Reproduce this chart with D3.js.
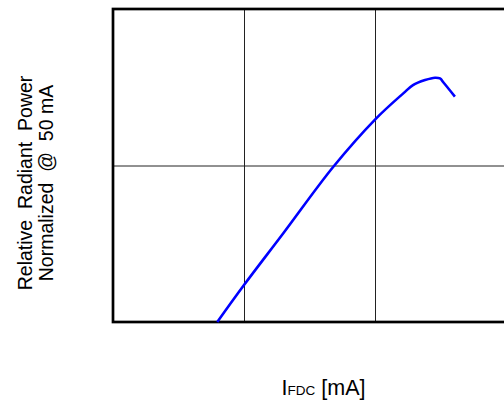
<!DOCTYPE html>
<html>
<head>
<meta charset="utf-8">
<script src="https://cdn.jsdelivr.net/npm/d3@7"></script>
<style>
  html, body { margin: 0; padding: 0; background: #fff; }
  svg { display: block; font-family: "Liberation Sans", Arial, sans-serif; }
</style>
</head>
<body>
<svg id="chart"></svg>
<script>
// forward current (mA) and relative radiant power
const currentMA = [39.8, 50, 65, 84.1, 100.1, 110.8, 114.5, 119.1, 122.9, 124.8, 126.3, 130.5];
const relPower  = [0, 0.236, 0.567, 0.992, 1.295, 1.461, 1.514, 1.546, 1.561, 1.556, 1.527, 1.44];
const xGrid = [50, 100];
const yGrid = [1];

const W = 504, H = 401;
const margin = { top: 9, right: -2, bottom: 79, left: 113 };
const width = W - margin.left - margin.right;
const height = H - margin.top - margin.bottom;

const svg = d3.select('#chart').attr('width', W).attr('height', H);
const g = svg.append('g').attr('transform', `translate(${margin.left}, ${margin.top})`);

const x = d3.scaleLinear().domain([0, 150]).range([0, width]);
const y = d3.scaleLinear().domain([0, 2]).range([height, 0]);

// grid lines
const gx = g.append('g')
  .attr('transform', `translate(0, ${height})`)
  .call(d3.axisBottom(x).tickValues(xGrid).tickSize(-height).tickFormat(''));
const gy = g.append('g')
  .call(d3.axisLeft(y).tickValues(yGrid).tickSize(-width).tickFormat(''));
[gx, gy].forEach(a => {
  a.select('.domain').remove();
  a.selectAll('line').attr('stroke', '#222').attr('stroke-width', 1);
});

// frame
g.append('rect')
  .attr('width', width)
  .attr('height', height)
  .attr('fill', 'none')
  .attr('stroke', '#000')
  .attr('stroke-width', 2.7);

const data = currentMA.map((c, i) => ({ c, p: relPower[i] }));
const line = d3.line()
  .x(d => x(d.c))
  .y(d => y(d.p))
  .curve(d3.curveCatmullRom.alpha(0.5));

g.append('path')
  .datum(data)
  .attr('d', line)
  .attr('fill', 'none')
  .attr('stroke', '#0000ff')
  .attr('stroke-width', 2.6);

// y label, two lines
const yl = svg.append('text')
  .attr('transform', `translate(0, 183) rotate(-90)`)
  .attr('text-anchor', 'middle')
  .attr('font-size', 19.5)
  .style('white-space', 'pre');
yl.append('tspan').attr('x', 0).attr('y', 32).text('Relative  Radiant  Power');
yl.append('tspan').attr('x', 0).attr('y', 53).text('Normalized  @  50 mA');

// x label
const xl = svg.append('text')
  .attr('x', 323.5)
  .attr('y', 395)
  .attr('text-anchor', 'middle')
  .attr('font-size', 21.5);
xl.append('tspan').text('I');
xl.append('tspan').attr('font-size', 13.5).text('FDC');
xl.append('tspan').text(' [mA]');
</script>
</body>
</html>
